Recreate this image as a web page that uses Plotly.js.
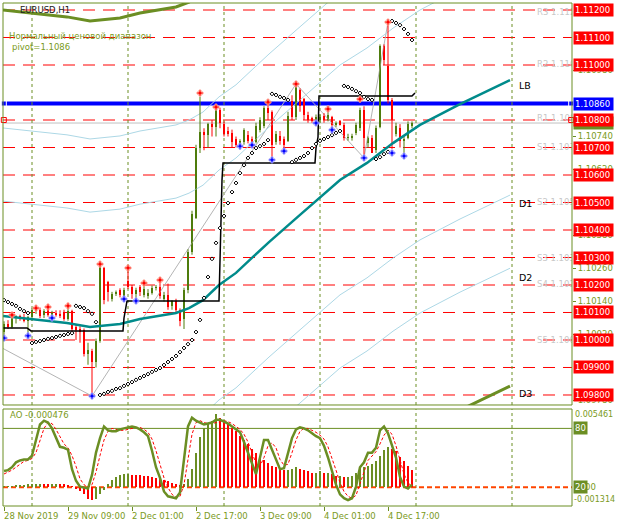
<!DOCTYPE html>
<html><head><meta charset="utf-8">
<script src="https://cdn.plot.ly/plotly-3.0.1.min.js"></script>
<style>html,body{margin:0;padding:0;background:#fff;}#chart{width:617px;height:528px;}</style>
</head><body><div id="chart"></div>
<script>
// ---------- DATA ----------
const open = [1.10030,1.10058,1.10048,1.10080,1.10086,1.10080,1.10068,1.10084,1.10108,1.10110,
 1.10090,1.10108,1.10090,1.10098,1.10094,1.10098,1.10078,1.10104,1.10048,1.10040,
 1.10036,1.09950,1.09960,1.09920,1.09995,1.10262,1.10210,1.10150,1.10168,1.10180,
 1.10150,1.10215,1.10192,1.10166,1.10194,1.10164,1.10160,1.10172,1.10188,1.10194,
 1.10150,1.10164,1.10125,1.10140,1.10110,1.10075,1.10180,1.10320,1.10445,1.10700,
 1.10755,1.10745,1.10785,1.10775,1.10838,1.10785,1.10760,1.10752,1.10730,1.10710,
 1.10720,1.10745,1.10730,1.10720,1.10765,1.10780,1.10845,1.10830,1.10720,1.10742,
 1.10730,1.10725,1.10870,1.10812,1.10910,1.10875,1.10818,1.10806,1.10800,1.10800,
 1.10815,1.10800,1.10810,1.10782,1.10795,1.10782,1.10733,1.10735,1.10752,1.10770,
 1.10835,1.10715,1.10733,1.10690,1.10775,1.11068,1.10995,1.10873,1.10750,1.10770,
 1.10722,1.10735,1.10777];
const high = [1.10068,1.10072,1.10088,1.10090,1.10092,1.10095,1.10088,1.10115,1.10120,1.10118,
 1.10112,1.10124,1.10106,1.10108,1.10108,1.10110,1.10128,1.10110,1.10055,1.10050,
 1.10042,1.09990,1.09968,1.10005,1.10280,1.10266,1.10215,1.10175,1.10180,1.10188,
 1.10190,1.10262,1.10200,1.10190,1.10200,1.10212,1.10185,1.10198,1.10200,1.10225,
 1.10175,1.10205,1.10145,1.10150,1.10115,1.10190,1.10330,1.10470,1.10710,1.10885,
 1.10770,1.10790,1.10800,1.10845,1.10845,1.10795,1.10775,1.10765,1.10740,1.10730,
 1.10770,1.10760,1.10740,1.10790,1.10810,1.10850,1.10870,1.10835,1.10760,1.10760,
 1.10740,1.10830,1.10890,1.10930,1.10915,1.10880,1.10830,1.10812,1.10820,1.10820,
 1.10825,1.10838,1.10815,1.10795,1.10800,1.10790,1.10750,1.10750,1.10790,1.10845,
 1.10850,1.10740,1.10745,1.10780,1.11075,1.11075,1.11155,1.10880,1.10790,1.10785,
 1.10740,1.10795,1.10795];
const low = [1.10018,1.10040,1.10042,1.10060,1.10070,1.10064,1.10020,1.10070,1.10095,1.10080,
 1.10080,1.10085,1.10070,1.10085,1.10080,1.10070,1.10070,1.10030,1.10000,1.09990,
 1.09940,1.09910,1.09804,1.09900,1.09990,1.10130,1.10140,1.10140,1.10160,1.10155,
 1.10140,1.10185,1.10150,1.10150,1.10160,1.10155,1.10150,1.10165,1.10180,1.10150,
 1.10140,1.10110,1.10110,1.10100,1.10050,1.10040,1.10170,1.10310,1.10440,1.10680,
 1.10690,1.10700,1.10740,1.10740,1.10770,1.10740,1.10740,1.10700,1.10700,1.10695,
 1.10710,1.10715,1.10700,1.10715,1.10755,1.10770,1.10800,1.10660,1.10710,1.10710,
 1.10690,1.10720,1.10800,1.10800,1.10830,1.10800,1.10790,1.10790,1.10790,1.10790,
 1.10790,1.10795,1.10770,1.10775,1.10780,1.10725,1.10725,1.10725,1.10745,1.10760,
 1.10665,1.10700,1.10680,1.10680,1.10770,1.11000,1.10860,1.10695,1.10740,1.10700,
 1.10680,1.10730,1.10770];
const close = [1.10058,1.10048,1.10080,1.10086,1.10078,1.10068,1.10084,1.10108,1.10112,1.10088,
 1.10104,1.10090,1.10098,1.10092,1.10086,1.10078,1.10104,1.10040,1.10036,1.10028,
 1.09950,1.09962,1.09920,1.09995,1.10270,1.10145,1.10175,1.10168,1.10174,1.10162,
 1.10182,1.10192,1.10166,1.10180,1.10176,1.10184,1.10172,1.10190,1.10194,1.10160,
 1.10164,1.10120,1.10140,1.10110,1.10070,1.10180,1.10320,1.10460,1.10700,1.10755,
 1.10745,1.10785,1.10775,1.10838,1.10790,1.10750,1.10750,1.10720,1.10710,1.10722,
 1.10762,1.10725,1.10720,1.10780,1.10800,1.10845,1.10825,1.10710,1.10748,1.10722,
 1.10710,1.10815,1.10812,1.10925,1.10850,1.10818,1.10800,1.10798,1.10812,1.10812,
 1.10800,1.10820,1.10782,1.10790,1.10782,1.10733,1.10740,1.10742,1.10782,1.10835,
 1.10735,1.10733,1.10680,1.10772,1.11068,1.11018,1.10873,1.10800,1.10778,1.10722,
 1.10732,1.10785,1.10789];

// Parabolic SAR (one dot per bar)
const sar = [1.10145,1.10138,1.10131,1.10124,1.10113,1.10105,1.10098,
 1.09989,1.09993,1.09996,1.10000,1.10004,1.10007,1.10011,1.10015,1.10018,1.10022,1.10025,
 1.10124,1.10120,1.10116,1.10105,1.10095,1.10065,
 1.09800,1.09804,1.09811,1.09815,1.09822,1.09825,1.09833,1.09840,1.09847,1.09855,1.09862,1.09869,
 1.09876,1.09884,1.09891,1.09898,1.09909,1.09920,1.09931,1.09942,1.09956,1.09971,1.09985,1.10000,
 1.10029,1.10073,1.10153,1.10229,1.10295,1.10353,1.10407,1.10451,1.10498,1.10538,1.10571,1.10607,
 1.10636,1.10662,1.10680,1.10698,1.10705,1.10713,1.10727,
 1.10895,1.10891,1.10884,1.10880,1.10873,
 1.10647,1.10655,1.10662,1.10669,1.10680,1.10698,1.10713,1.10724,1.10731,1.10738,1.10745,1.10753,1.10760,
 1.10924,1.10920,1.10913,1.10905,1.10898,1.10884,1.10876,1.10873,
 1.10658,1.10665,1.10676,1.10684,
 1.11160,1.11153,1.11145,1.11131,1.11113,1.11091];

// Fractals
const fracUpBar = [2,8,11,16,24,31,35,39,49,53,66,73,81,89,96];
const fracUpPrice = [1.10091,1.10116,1.10120,1.10124,1.10276,1.10262,1.10207,1.10218,1.10898,1.10847,1.10865,1.10931,1.10840,1.10876,1.11156];
const fracDnBar = [0,6,12,22,30,33,59,62,67,70,78,82,90,97,100];
const fracDnPrice = [1.10007,1.10015,1.10080,1.09796,1.10149,1.10142,1.10705,1.10709,1.10655,1.10687,1.10789,1.10764,1.10662,1.10680,1.10669];

// Centre line of the "normal price range" envelope (teal) and its band distances (D1, D2, D3)
const maBar = [-0.25,4,9,15.75,21.5,24,29,34,39.75,43,46.25,49.75,53.75,58,62.25,66.25,74,79,84,90.75,97.25,104,114,126.5];
const maPrice = [1.10087,1.10080,1.10073,1.10062,1.10047,1.10051,1.10058,1.10076,1.10091,1.10098,1.10116,1.10145,1.10200,1.10244,1.10302,1.10356,1.10455,1.10520,1.10582,1.10644,1.10716,1.10782,1.10858,1.10945];
const bandDist = [0.00418,0.00684,0.01113];

// Black step line
const stepBar = [-0.25,5.75,6.75,29.75,30,30.75,53.75,54,54.5,54.75,77.75,78,78.5,78.75,102,102.75];
const stepPrice = [1.10044,1.10044,1.10033,1.10033,1.10080,1.10142,1.10142,1.10298,1.10582,1.10644,1.10644,1.10698,1.10738,1.10887,1.10887,1.10898];

// ZigZag (gray)
const zzBar = [-1,22,73,90,96];
const zzPrice = [1.09975,1.09796,1.10931,1.10662,1.11156];

// Levels
const redLevels = [1.112,1.111,1.110,1.108,1.107,1.106,1.105,1.104,1.103,1.102,1.101,1.100,1.099,1.098];
const redLabels = ['1.11200','1.11100','1.11000','1.10800','1.10700','1.10600','1.10500','1.10400','1.10300','1.10200','1.10100','1.10000','1.09900','1.09800'];
const pivotLevel = 1.1086;
const bidLevel = 1.10789;
const axisTicks = [1.10980,1.10740,1.10620,1.10380,1.10260,1.10140,1.10020,1.09780];
const pivotNames = ['R3 1.11200','R2 1.11000','R1 1.10800','S1 1.10700','S2 1.10500','S3 1.10300','S4 1.10200','S5 1.10000'];
const pivotNamePrice = [1.11188,1.11000,1.10805,1.10700,1.10500,1.10295,1.10200,1.09995];
const sideNames = ['LB','D1','D2','D3'];
const sidePrice = [1.10924,1.10498,1.10229,1.09804];

// Time axis
const daySepBars = [7,31,55,79,103,127];
const timeTickBars = [0,16,32,48,64,80,96];
const timeTickText = ['28 Nov 2019','29 Nov 09:00','2 Dec 01:00','2 Dec 17:00','3 Dec 09:00','4 Dec 01:00','4 Dec 17:00'];

// Lower window: AO histogram + stochastic
const ao = [0.00005,0.00008,0.00010,0.00012,0.00015,0.00018,0.00020,0.00022,0.00025,0.00025,
 0.00022,0.00020,0.00022,0.00025,0.00022,0.00020,0.00018,0.00008,-0.00010,-0.00030,
 -0.00050,-0.00080,-0.00090,-0.00080,-0.00050,-0.00020,0.00020,0.00050,0.00070,0.00085,
 0.00090,0.00090,0.00088,0.00085,0.00082,0.00080,0.00075,0.00070,0.00065,0.00060,
 0.00050,0.00040,0.00030,0.00020,0.00015,0.00020,0.00060,0.00130,0.00240,0.00350,
 0.00410,0.00440,0.00460,0.00510,0.00480,0.00460,0.00440,0.00410,0.00390,0.00360,
 0.00330,0.00300,0.00270,0.00240,0.00210,0.00190,0.00170,0.00150,0.00140,0.00130,
 0.00120,0.00120,0.00130,0.00140,0.00130,0.00120,0.00110,0.00100,0.00100,0.00110,
 0.00100,0.00100,0.00090,0.00080,0.00080,0.00070,0.00070,0.00080,0.00100,0.00130,
 0.00140,0.00150,0.00160,0.00180,0.00220,0.00260,0.00280,0.00270,0.00250,0.00210,
 0.00180,0.00150,0.00120];
const stochK = [36,37,40,45,47,48,48,52,68,84,
 88,86,80,70,61,60,58,38,26,20,
 19,18,32,55,70,82,78,77,77,79,
 80,81,82,81,79,76,72,57,40,29,
 15,10,9,8,14,48,82,91,88,86,
 84,85,86,89,89,87,85,82,79,76,
 66,55,42,33,50,68,68,58,48,38,
 39,55,70,79,81,80,78,75,72,70,
 62,50,35,22,12,8,6,8,20,40,
 45,55,55,60,78,82,75,62,50,30,
 20,18,22];
const stochD = [33,35,37,40,43,46,47,49,55,67,
 80,86,85,79,71,64,60,52,41,28,
 22,19,22,35,52,68,77,80,79,78,
 78,79,80,81,81,79,76,69,57,43,
 29,19,12,9,10,22,48,74,86,88,
 86,85,85,86,87,88,87,85,82,79,
 74,66,55,44,41,50,62,65,60,48,
 42,43,55,68,77,80,80,78,76,73,
 69,61,50,37,24,15,10,8,11,22,
 35,47,52,56,64,73,78,74,62,48,
 33,24,20];
const aoRange = [-0.001314,0.005461];
const stochLevels = [80,20];

// ---------- STYLE ----------
const OLIVE = '#6b8e23';
const TXT = '#7a9a22';
const GREEN = '#4f7d0c';
const RED = '#ff0000';
const LBLUE = '#add8e6';
const FONT = 'DejaVu Sans, Verdana, sans-serif';
const FS = 8.5;

// ---------- BUILD ----------
const N = open.length;
const upX=[],upB=[],upH=[],dnX=[],dnB=[],dnH=[],upWx=[],upWy=[],dnWx=[],dnWy=[];
const MINB = 0.00003;
for (let i=0;i<N;i++){
  const o=open[i], c=close[i];
  if (c>=o){ upX.push(i); upB.push(o); upH.push(Math.max(c-o,MINB)); upWx.push(i,i,null); upWy.push(low[i],high[i],null); }
  else { dnX.push(i); dnB.push(c); dnH.push(Math.max(o-c,MINB)); dnWx.push(i,i,null); dnWy.push(low[i],high[i],null); }
}
const idx = open.map((_,i)=>i);
const aoCol = ao.map((v,i)=> (i===0 || v>=ao[i-1]) ? OLIVE : RED);
const band = (k,sgn)=>maPrice.map(p=>p+sgn*bandDist[k]);

const traces = [
  {type:'scatter',mode:'lines',x:zzBar,y:zzPrice,line:{color:'#b4b4b4',width:1},xaxis:'x',yaxis:'y'},
  {type:'scatter',mode:'lines',x:maBar,y:band(0,1),line:{color:LBLUE,width:1},xaxis:'x',yaxis:'y'},
  {type:'scatter',mode:'lines',x:maBar,y:band(0,-1),line:{color:LBLUE,width:1},xaxis:'x',yaxis:'y'},
  {type:'scatter',mode:'lines',x:maBar,y:band(1,1),line:{color:LBLUE,width:1},xaxis:'x',yaxis:'y'},
  {type:'scatter',mode:'lines',x:maBar,y:band(1,-1),line:{color:LBLUE,width:1},xaxis:'x',yaxis:'y'},
  {type:'scatter',mode:'lines',x:maBar,y:band(2,1),line:{color:OLIVE,width:3},xaxis:'x',yaxis:'y'},
  {type:'scatter',mode:'lines',x:maBar,y:band(2,-1),line:{color:OLIVE,width:3},xaxis:'x',yaxis:'y'},
  {type:'bar',x:upX,y:upH,base:upB,width:0.72,marker:{color:GREEN,line:{width:0}},xaxis:'x',yaxis:'y'},
  {type:'bar',x:dnX,y:dnH,base:dnB,width:0.72,marker:{color:RED,line:{width:0}},xaxis:'x',yaxis:'y'},
  {type:'scatter',mode:'lines',x:upWx,y:upWy,line:{color:GREEN,width:1},xaxis:'x',yaxis:'y'},
  {type:'scatter',mode:'lines',x:dnWx,y:dnWy,line:{color:RED,width:1},xaxis:'x',yaxis:'y'},
  {type:'scatter',mode:'lines',x:maBar,y:maPrice,line:{color:'#008b8b',width:2.5},xaxis:'x',yaxis:'y'},
  {type:'scatter',mode:'lines',x:stepBar,y:stepPrice,line:{color:'#000000',width:1.5},xaxis:'x',yaxis:'y'},
  {type:'scatter',mode:'markers',x:idx,y:sar,marker:{symbol:'diamond',size:3,color:'#ffffff',line:{color:'#000000',width:1}},xaxis:'x',yaxis:'y'},
  {type:'scatter',mode:'markers',x:fracUpBar,y:fracUpPrice,marker:{symbol:'cross',size:5,color:'#ff0000',line:{color:'#ff9a8a',width:1}},xaxis:'x',yaxis:'y'},
  {type:'scatter',mode:'markers',x:fracDnBar,y:fracDnPrice,marker:{symbol:'cross',size:5,color:'#0000ff',line:{color:'#a0a0ff',width:1}},xaxis:'x',yaxis:'y'},
  {type:'scatter',mode:'text',x:pivotNames.map(()=>133.25),y:pivotNamePrice,text:pivotNames,textposition:'middle right',
    textfont:{family:FONT,size:FS,color:'#c8c8c8'},cliponaxis:true,xaxis:'x',yaxis:'y'},
  {type:'scatter',mode:'markers',x:[-0.05,141.8],y:[pivotLevel,pivotLevel],marker:{symbol:'square',size:5,color:'#0000ff',line:{color:'#ffffff',width:1}},cliponaxis:false,xaxis:'x',yaxis:'y'},
  {type:'scatter',mode:'markers',x:[-0.05,141.8],y:[1.108,1.108],marker:{symbol:'square-open',size:5,color:'#ff0000'},cliponaxis:false,xaxis:'x',yaxis:'y'},
  // lower window
  {type:'bar',x:idx,y:ao,width:0.28,marker:{color:aoCol,line:{width:0}},xaxis:'x',yaxis:'y2'},
  {type:'scatter',mode:'lines',x:idx,y:stochD,line:{color:'#ff0000',width:1,dash:'3px,2px'},xaxis:'x',yaxis:'y3'},
  {type:'scatter',mode:'lines',x:idx,y:stochK,line:{color:OLIVE,width:2.5},xaxis:'x',yaxis:'y3'}
];

const shapes = [];
redLevels.forEach(p=>shapes.push({type:'line',layer:'below',xref:'x domain',x0:0,x1:1,yref:'y',y0:p,y1:p,line:{color:'#ff0000',width:1,dash:'12px,8px'}}));
shapes.push({type:'line',layer:'below',xref:'x domain',x0:0,x1:1,yref:'y',y0:bidLevel,y1:bidLevel,line:{color:'#c0c0c0',width:1}});
shapes.push({type:'line',layer:'below',xref:'x domain',x0:0,x1:1,yref:'y',y0:pivotLevel,y1:pivotLevel,line:{color:'#0000ff',width:4}});
daySepBars.forEach(b=>{
  shapes.push({type:'line',layer:'below',xref:'x',x0:b,x1:b,yref:'y domain',y0:0,y1:1,line:{color:OLIVE,width:1,dash:'3px,3px'}});
  shapes.push({type:'line',layer:'below',xref:'x',x0:b,x1:b,yref:'y2 domain',y0:0,y1:1,line:{color:OLIVE,width:1,dash:'3px,3px'}});
});
shapes.push({type:'line',layer:'below',xref:'x domain',x0:0,x1:1,yref:'y3',y0:stochLevels[0],y1:stochLevels[0],line:{color:OLIVE,width:1}});
shapes.push({type:'line',layer:'below',xref:'x domain',x0:0,x1:1,yref:'y2',y0:0,y1:0,line:{color:'#ff4500',width:2,dash:'5px,3px'}});
shapes.push({type:'rect',xref:'x domain',x0:0,x1:1,yref:'y domain',y0:0,y1:1,line:{color:OLIVE,width:1}});
shapes.push({type:'rect',xref:'x domain',x0:0,x1:1,yref:'y2 domain',y0:0,y1:1,line:{color:OLIVE,width:1}});

const ann = [];
const box = (y,yref,text,bg,fc)=>({xref:'paper',x:1,xanchor:'left',xshift:1,yref:yref,y:y,yanchor:'middle',text:text,
  showarrow:false,bgcolor:bg,font:{family:FONT,size:FS,color:fc||'#ffffff'},borderpad:1,align:'left'});
ann.push(Object.assign(box(bidLevel,'y','1.10789',OLIVE),{width:37}));
redLevels.forEach((p,k)=>{ ann.push(Object.assign(box(p,'y',redLabels[k],'#ff0000'),{width:37})); });
ann.push(Object.assign(box(pivotLevel,'y','1.10860','#0000ff'),{width:37}));
ann.push({xref:'paper',x:1,xanchor:'left',xshift:1,yref:'y2',y:aoRange[1],yanchor:'top',yshift:1,text:'0.005461',showarrow:false,font:{family:FONT,size:8,color:TXT}});
ann.push({xref:'paper',x:1,xanchor:'left',xshift:0,yref:'y2',y:aoRange[0],yanchor:'bottom',yshift:0,text:'-0.001314',showarrow:false,font:{family:FONT,size:8,color:TXT}});
ann.push({xref:'paper',x:1,xanchor:'left',xshift:3,yref:'y2',y:0,yanchor:'middle',text:'0.00',showarrow:false,font:{family:FONT,size:FS,color:TXT}});
stochLevels.forEach(v=>ann.push(box(v,'y3',String(v),OLIVE)));
// top-left texts
ann.push({xref:'paper',x:0,xanchor:'left',xshift:15,yref:'paper',y:1,yanchor:'middle',yshift:-7,text:'EURUSD,H1',showarrow:false,font:{family:FONT,size:FS,color:'#202020'}});
ann.push({xref:'paper',x:0,xanchor:'left',xshift:4,yref:'paper',y:1,yanchor:'middle',yshift:-33,text:'Нормальный ценовой диапазон',showarrow:false,font:{family:FONT,size:FS,color:TXT}});
ann.push({xref:'paper',x:0,xanchor:'left',xshift:7,yref:'paper',y:1,yanchor:'middle',yshift:-44,text:'pivot=1.1086',showarrow:false,font:{family:FONT,size:FS,color:TXT}});
ann.push({xref:'paper',x:0,xanchor:'left',xshift:5,yref:'y2 domain',y:1,yanchor:'middle',yshift:-6,text:'AO -0.000476',showarrow:false,font:{family:FONT,size:FS,color:TXT}});
sideNames.forEach((t,k)=>ann.push({xref:'x',x:128.2,xanchor:'left',yref:'y',y:sidePrice[k],yanchor:'middle',text:t,showarrow:false,font:{family:FONT,size:9.5,color:'#000000'}}));
timeTickBars.forEach((b,k)=>ann.push({xref:'x',x:b,xanchor:'left',xshift:-2,yref:'paper',y:0,yanchor:'top',yshift:-3,text:timeTickText[k],showarrow:false,font:{family:FONT,size:FS,color:TXT}}));

const layout = {
  width:617,height:528,margin:{l:3,r:45,t:3,b:22},
  paper_bgcolor:'#ffffff',plot_bgcolor:'#ffffff',showlegend:false,barmode:'overlay',bargap:0,
  font:{family:FONT,size:FS,color:TXT},
  xaxis:{domain:[0,1],range:[-0.25,142],anchor:'y2',showgrid:false,zeroline:false,showline:false,
    ticks:'outside',ticklen:4,tickcolor:OLIVE,tickvals:timeTickBars,showticklabels:false},
  yaxis:{domain:[0.2008,1],range:[1.097636,1.112255],side:'right',anchor:'x',showgrid:false,zeroline:false,showline:false,
    ticks:'outside',ticklen:3,tickcolor:OLIVE,tickvals:axisTicks,ticktext:axisTicks.map(v=>v.toFixed(5)),
    tickfont:{family:FONT,size:FS,color:TXT}},
  yaxis2:{domain:[0,0.19284],range:aoRange,anchor:'x',showgrid:false,zeroline:false,showline:false,showticklabels:false,ticks:''},
  yaxis3:{overlaying:'y2',range:[0,100],anchor:'x',showgrid:false,zeroline:false,showline:false,showticklabels:false,ticks:''},
  shapes:shapes,annotations:ann
};
Plotly.newPlot('chart',traces,layout,{staticPlot:true,displayModeBar:false});
</script></body></html>
